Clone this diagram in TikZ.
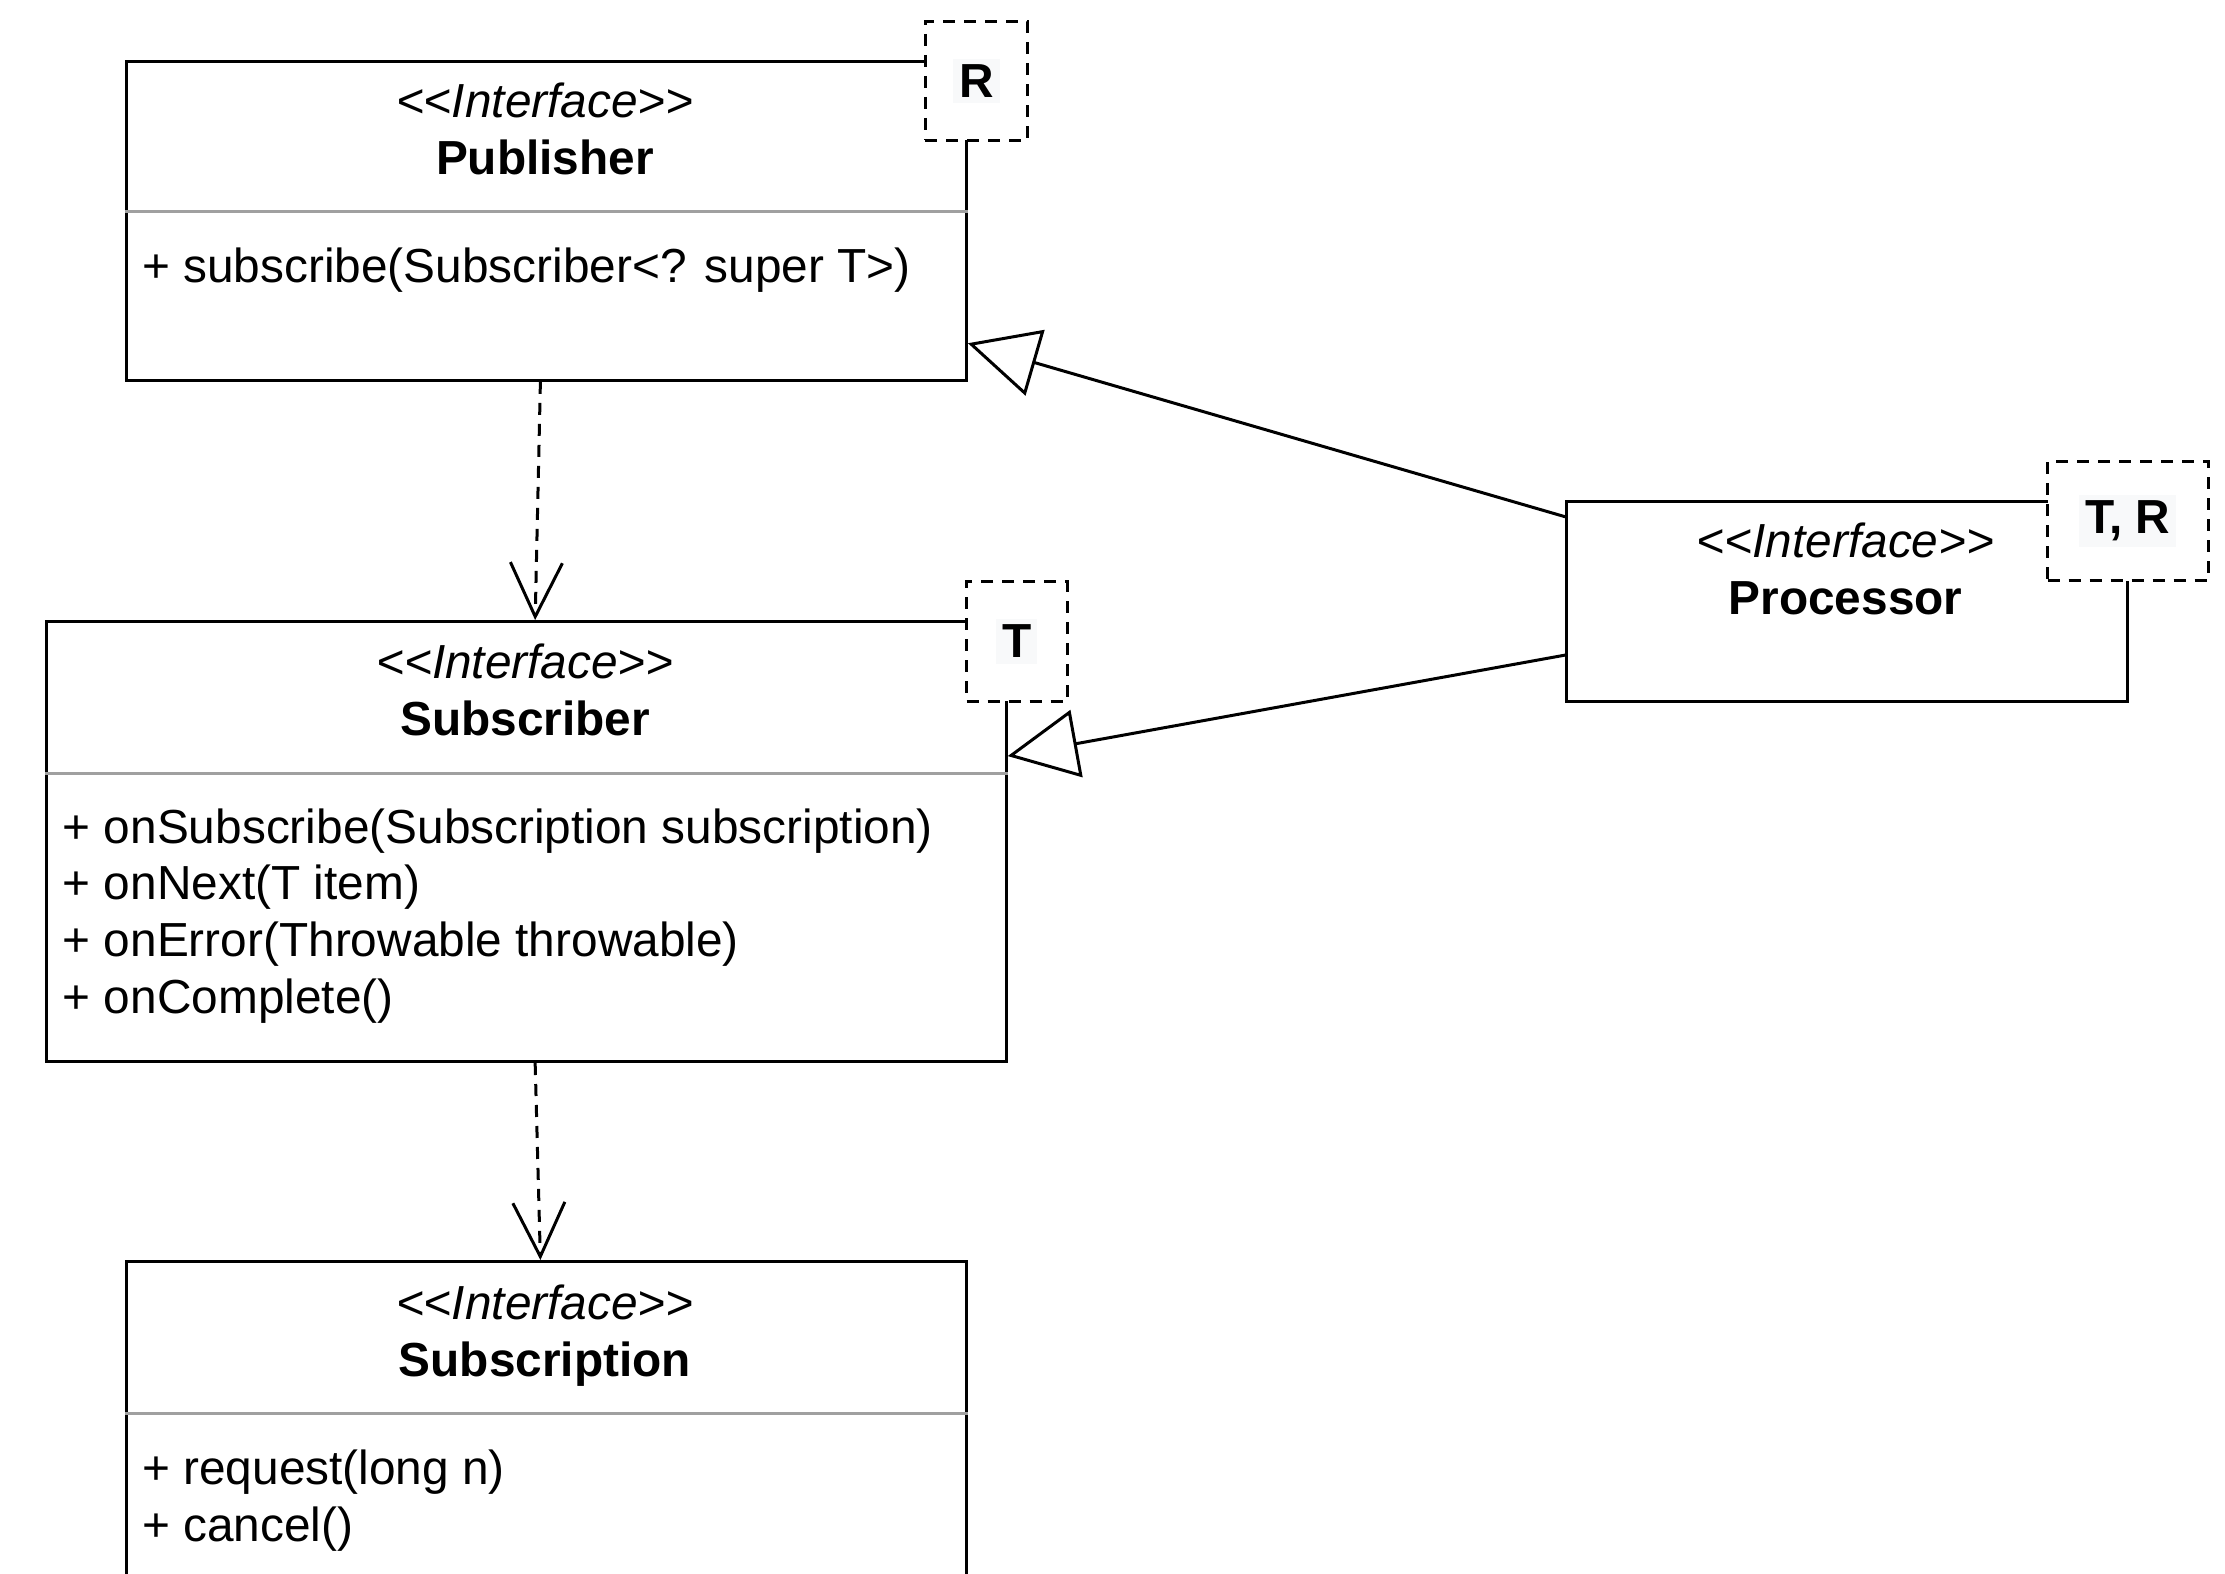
\documentclass[tikz,border=0pt]{standalone}
\usepackage{fontspec}
\setmainfont{Liberation Sans}[Ligatures=TeXOff]
\usetikzlibrary{arrows.meta,calc}
\definecolor{sepgray}{RGB}{160,160,160}
\definecolor{lblbg}{RGB}{248,249,250}
\begin{document}
\begin{tikzpicture}[x=0.5pt,y=-0.5pt,
  cls/.style={draw=black,line width=1.5pt,fill=white,inner sep=0pt,anchor=north west},
  tmpl/.style={draw=black,line width=1.5pt,dash pattern=on 6pt off 4.5pt,fill=white,inner sep=0pt,anchor=north west},
  txt/.style={font=\fontsize{23.9}{28.4}\selectfont,inner sep=0pt},
  stereo/.style={txt,font=\fontsize{23.9}{28.4}\selectfont\itshape,anchor=base},
  cname/.style={txt,font=\fontsize{23.9}{28.4}\selectfont\bfseries,anchor=base},
  meth/.style={txt,anchor=base west},
  tlbl/.style={txt,font=\fontsize{23.9}{28.4}\selectfont\bfseries,fill=lblbg,inner sep=3pt},
  sepline/.style={draw=sepgray,line width=1.5pt},
  dep/.style={line width=1.5pt,dash pattern=on 6pt off 4.5pt,-{Straight Barb[length=27pt,width=26pt,line width=1.5pt]}},
  gen/.style={line width=1.5pt,-{Triangle[open,length=35pt,width=34pt,line width=1.5pt]}}]
\useasboundingbox (0,0) rectangle (2225,1573);
\clip (0,0) rectangle (2225,1573);

% class boxes
\node[cls,minimum width=420pt,minimum height=159.65pt] (pub) at (124.9,59.6) {};
\node[cls,minimum width=479.65pt,minimum height=219.95pt] (sub) at (45.4,620.1) {};
\node[cls,minimum width=420pt,minimum height=200pt] (sn) at (124.9,1260) {};
\node[cls,minimum width=280.25pt,minimum height=100.05pt] (proc) at (1565.2,499.5) {};

% separators
\draw[sepline] ($(pub.north west)+(0,151.8)$) -- ($(pub.north east)+(0,151.8)$);
\draw[sepline] ($(sub.north west)+(0,153.3)$) -- ($(sub.north east)+(0,153.3)$);
\draw[sepline] ($(sn.north west)+(0,153.3)$) -- ($(sn.north east)+(0,153.3)$);

% Publisher texts
\node[stereo] (pubst) at (544.9,118) {<<Interface>>};
\node[cname] (pubnm) at (544.9,174.5) {Publisher};
\node[meth] (pubm1) at (141.9,282.5) {+ subscribe(Subscriber<? super T>)};

% Subscriber texts
\node[stereo] (subst) at (525,678) {<<Interface>>};
\node[cname] (subnm) at (525,735) {Subscriber};
\node[meth] (subm1) at (62.4,843) {+ onSubscribe(Subscription subscription)};
\node[meth] (subm2) at (62.4,899.7) {+ onNext(T item)};
\node[meth] (subm3) at (62.4,956.4) {+ onError(Throwable throwable)};
\node[meth] (subm4) at (62.4,1013.1) {+ onComplete()};

% Subscription texts
\node[stereo] (snst) at (544.9,1319.7) {<<Interface>>};
\node[cname] (snnm) at (544.9,1376.4) {Subscription};
\node[meth] (snm1) at (141.9,1484.3) {+ request(long n)};
\node[meth] (snm2) at (141.9,1541) {+ cancel()};

% Processor texts
\node[stereo] (procst) at (1845.5,557.7) {<<Interface>>};
\node[cname] (procnm) at (1845.5,614.4) {Processor};

% connectors
\draw[dep] ($(pub.south)+(-6,0)$) -- ($(sub.north)+(8.6,0)$);
\draw[dep] ($(sub.south)+(8.6,0)$) -- ($(sn.north)+(-6,0)$);
\draw[gen] ($(proc.north west)!0.085!(proc.south west)$) -- ($(pub.south east)!0.12!(pub.north east)$);
\draw[gen] ($(proc.north west)!0.766!(proc.south west)$) -- ($(sub.north east)!0.307!(sub.south east)$);

% template parameter boxes
\node[tmpl,minimum width=51.1pt,minimum height=59.55pt] (rbox) at (923.8,19.9) {};
\node[tlbl] (rlbl) at (rbox.center) {R};
\node[tmpl,minimum width=50.35pt,minimum height=59.6pt] (tbox) at (965,580.4) {};
\node[tlbl] (tlbl1) at (tbox.center) {T};
\node[tmpl,minimum width=80.2pt,minimum height=59.6pt] (trbox) at (2046.2,459.8) {};
\node[tlbl] (trlbl) at (trbox.center) {T, R};
\end{tikzpicture}
\end{document}
